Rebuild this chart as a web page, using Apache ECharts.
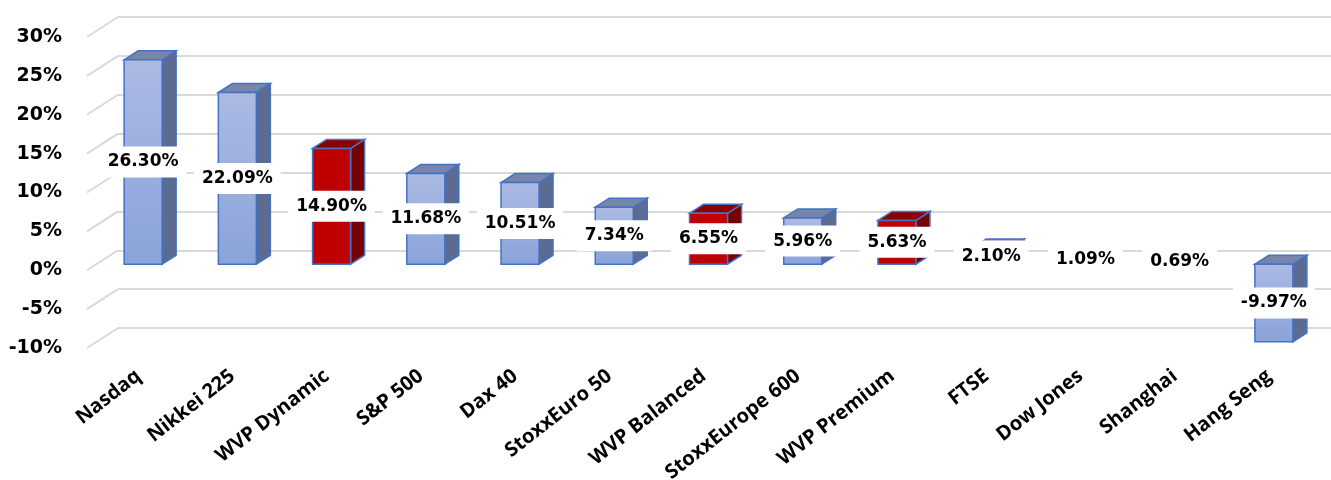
<!DOCTYPE html>
<html>
<head>
<meta charset="utf-8">
<script src="https://cdn.jsdelivr.net/npm/echarts@6/dist/echarts.min.js"></script>
<style>
html, body { margin: 0; padding: 0; background: #fff; }
#chart { width: 1331px; height: 480px; }
</style>
</head>
<body>
<div id="chart"></div>
<script>
var categories = ['Nasdaq', 'Nikkei 225', 'WVP Dynamic', 'S&P 500', 'Dax 40', 'StoxxEuro 50', 'WVP Balanced',
	'StoxxEurope 600', 'WVP Premium', 'FTSE', 'Dow Jones', 'Shanghai', 'Hang Seng'];
var returns = [26.30, 22.09, 14.90, 11.68, 10.51, 7.34, 6.55, 5.96, 5.63, 2.10, 1.09, 0.69, -9.97];
var yTicks = [-10, -5, 0, 5, 10, 15, 20, 25, 30];

// fake 3d depth
var DX = 14, DY = -9;            // column depth
var WALL_DX = 31, WALL_DY = -20; // side wall depth
var BAR_W = 38;

var blueFront = new echarts.graphic.LinearGradient(0, 0, 0, 1, [
	{offset: 0, color: '#abbae4'},
	{offset: 1, color: '#8ba3d9'}
]);

function renderColumn(params, api) {
	var i = api.value(0);
	var v = api.value(1);
	var p0 = api.coord([i, 0]);
	var p1 = api.coord([i, v]);
	var x0 = p0[0] - BAR_W / 2, x1 = p0[0] + BAR_W / 2;
	var yt = Math.min(p0[1], p1[1]), yb = Math.max(p0[1], p1[1]);
	var wvp = categories[i].indexOf('WVP') === 0;
	var stroke = {stroke: '#4472c4', lineWidth: 1.5};
	return {
		type: 'group',
		children: [
			{
				type: 'polygon',
				shape: {points: [[x1, yt], [x1 + DX, yt + DY], [x1 + DX, yb + DY], [x1, yb]]},
				style: Object.assign({fill: wvp ? '#780000' : '#5c6b92'}, stroke)
			},
			{
				type: 'polygon',
				shape: {points: [[x0, yt], [x0 + DX, yt + DY], [x1 + DX, yt + DY], [x1, yt]]},
				style: Object.assign({fill: wvp ? '#8e0000' : '#7785ab'}, stroke)
			},
			{
				type: 'rect',
				shape: {x: x0, y: yt, width: BAR_W, height: yb - yt},
				style: Object.assign({fill: wvp ? '#c00000' : blueFront}, stroke)
			}
		]
	};
}

function renderWall(params, api) {
	var p = api.coord([0, api.value(0)]);
	return {
		type: 'line',
		shape: {x1: p[0], y1: p[1], x2: p[0] - WALL_DX, y2: p[1] - WALL_DY},
		style: {stroke: '#d9d9d9', lineWidth: 2}
	};
}

var myChart = echarts.init(document.getElementById('chart'));
myChart.setOption({
	backgroundColor: '#fff',
	animation: false,
	grid: [
		{left: 96, right: 10, top: 31, bottom: 138, outerBoundsMode: 'none'},   // column plane
		{left: 118, right: 0, top: 17, bottom: 152, outerBoundsMode: 'none'},   // back wall
		{left: 87, right: 19, top: 37, bottom: 132, outerBoundsMode: 'none'}    // front edge, y labels
	],
	xAxis: [
		{
			type: 'category',
			data: categories,
			axisLine: {show: false},
			axisTick: {show: false},
			axisLabel: {
				interval: 0,
				rotate: 38,
				margin: 28,
				padding: [0, 6, 0, 0],
				color: '#000',
				fontFamily: 'Open Sans',
				fontWeight: 'bold',
				fontSize: 20
			}
		},
		{type: 'value', gridIndex: 1, min: 0, max: 1, show: false},
		{type: 'value', gridIndex: 2, min: 0, max: 1, show: false}
	],
	yAxis: [
		{type: 'value', min: -10, max: 30, interval: 5, show: false},
		{
			type: 'value',
			gridIndex: 1,
			min: -10,
			max: 30,
			interval: 5,
			axisLine: {show: false},
			axisTick: {show: false},
			axisLabel: {show: false},
			splitLine: {lineStyle: {color: '#d9d9d9', width: 2}}
		},
		{
			type: 'value',
			gridIndex: 2,
			min: -10,
			max: 30,
			interval: 5,
			axisLine: {show: false},
			axisTick: {show: false},
			splitLine: {show: false},
			axisLabel: {
				formatter: '{value}%',
				margin: 25,
				color: '#000',
				fontFamily: 'DejaVu Sans',
				fontWeight: 'bold',
				fontSize: 19
			}
		}
	],
	series: [
		{
			type: 'custom',
			xAxisIndex: 1,
			yAxisIndex: 1,
			z: 1,
			silent: true,
			renderItem: renderWall,
			data: yTicks
		},
		{
			type: 'custom',
			z: 2,
			renderItem: renderColumn,
			data: returns.map(function (v, i) { return [i, v]; })
		},
		{
			type: 'bar',
			z: 5,
			barWidth: BAR_W,
			itemStyle: {color: 'rgba(0,0,0,0)'},
			label: {
				show: true,
				position: 'inside',
				formatter: function (p) { return p.value.toFixed(2) + '%'; },
				color: '#000',
				fontFamily: 'DejaVu Sans',
				fontWeight: 'bold',
				fontSize: 17,
				backgroundColor: '#fff',
				padding: [7, 8]
			},
			data: returns
		}
	]
});
</script>
</body>
</html>
